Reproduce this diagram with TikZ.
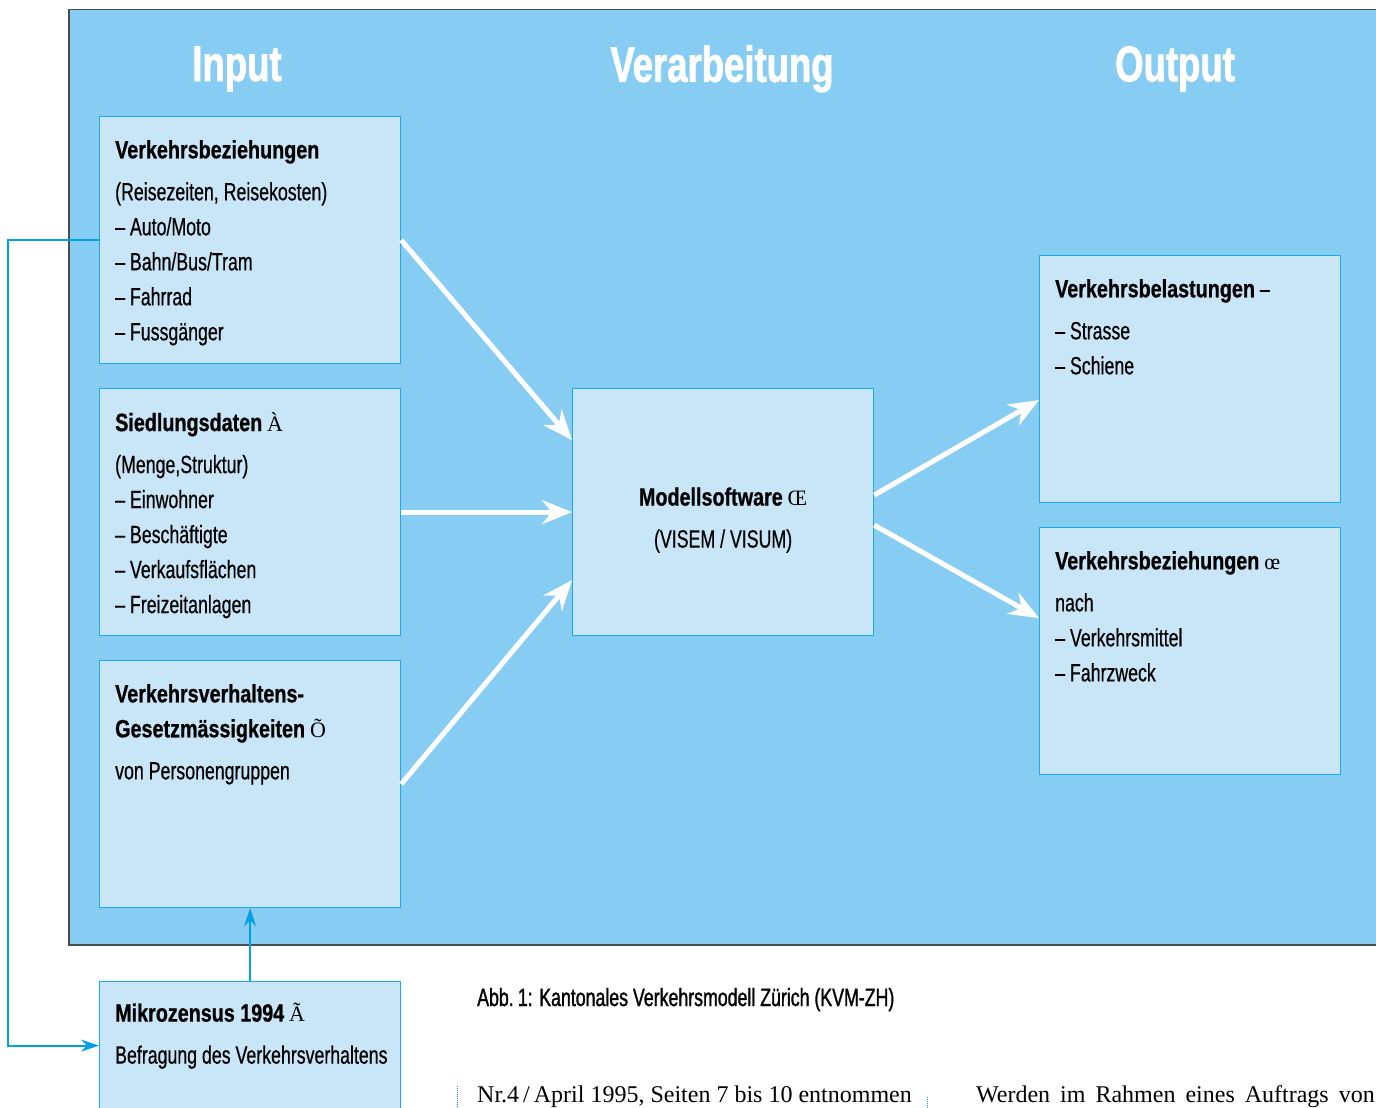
\documentclass[tikz,border=0pt]{standalone}
\usepackage{fontspec}
\setmainfont{Liberation Sans}[FakeStretch=0.71,FakeBold=0.5]
\newfontfamily\boldcond{Liberation Sans Bold}[FakeStretch=0.79,FakeBold=0.8]
\newfontfamily\headcond{Liberation Sans Bold}[FakeStretch=0.73,FakeBold=1.5]
\newfontfamily\capcond{Liberation Sans}[FakeStretch=0.71,FakeBold=1.2]
\newfontfamily\serffont{Liberation Serif}
\usetikzlibrary{arrows.meta,positioning}
\definecolor{panelblue}{RGB}{135,204,242}
\definecolor{boxblue}{RGB}{201,230,248}
\definecolor{edgeblue}{RGB}{30,170,230}
\definecolor{linkblue}{RGB}{0,160,227}
\newcommand{\mk}[1]{{\serffont\fontsize{22}{35}\selectfont #1}}
\newcommand{\hd}[1]{{\boldcond #1}}
\begin{document}
\begin{tikzpicture}[x=1pt,y=-1pt,
  panel/.style={draw=black!70,line width=1.5pt,fill=panelblue,anchor=north west,inner sep=0},
  box/.style={draw=edgeblue,line width=1.2pt,fill=boxblue,anchor=north west,inner sep=0,
    minimum width=301pt,minimum height=247pt},
  head/.style={text=white,font=\headcond\fontsize{50}{50}\selectfont},
  txt/.style={anchor=north west,inner sep=0,align=left,font=\fontsize{25}{35}\selectfont},
  warrow/.style={white,line width=5pt,-{Stealth[length=30pt,width=24pt]}},
  link/.style={linkblue,line width=2pt,-{Stealth[length=18pt,width=12pt]}}]
\clip (0,0) rectangle (1376,1108);
\fill[white] (0,0) rectangle (1376,1108);
\node[panel,minimum width=1320pt,minimum height=935pt] (panel) at (68,9) {};
\node[head] (hin) at (237,69) {Input};
\node[head] (hver) at (722,69) {Verarbeitung};
\node[head] (hout) at (1175,69) {Output};
% boxes
\node[box] (verk) at (99,116) {};
\node[box] (sied) at (99,388) {};
\node[box] (gesetz) at (99,660) {};
\node[box] (modell) at (572,388) {};
\node[box] (belast) at (1039,255) {};
\node[box] (bezieh) at (1039,527) {};
\node[box,minimum height=128pt] (mikro) at (99,981) {};
% box texts
\node[txt] (verktxt) at ([shift={(16,24)}]verk.north west) {\hd{Verkehrsbeziehungen}\\[7pt]
  (Reisezeiten, Reisekosten)\\ – Auto/Moto\\ – Bahn/Bus/Tram\\ – Fahrrad\\ – Fussgänger};
\node[txt] (siedtxt) at ([shift={(16,24)}]sied.north west) {\hd{Siedlungsdaten} \mk{À}\\[7pt]
  (Menge,Struktur)\\ – Einwohner\\ – Beschäftigte\\ – Verkaufsflächen\\ – Freizeitanlagen};
\node[txt] (gesetztxt) at ([shift={(16,24)}]gesetz.north west) {\hd{Verkehrsverhaltens-}\\
  \hd{Gesetzmässigkeiten} \mk{Õ}\\[7pt] von Personengruppen};
\node[txt,anchor=center,align=center] (modelltxt) at ([yshift=-8]modell.center) {\hd{Modellsoftware} \mk{Œ}\\[7pt]
  (VISEM / VISUM)};
\node[txt] (belasttxt) at ([shift={(16,24)}]belast.north west) {\hd{Verkehrsbelastungen} –\\[7pt]
  – Strasse\\ – Schiene};
\node[txt] (beziehtxt) at ([shift={(16,24)}]bezieh.north west) {\hd{Verkehrsbeziehungen} \mk{œ}\\[7pt]
  nach\\ – Verkehrsmittel\\ – Fahrzweck};
\node[txt] (mikrotxt) at ([shift={(16,22)}]mikro.north west) {\hd{Mikrozensus 1994} \mk{Ã}\\[7pt]
  Befragung des Verkehrsverhaltens};
% arrows
\draw[warrow] (verk.east) -- ([yshift=72]modell.west);
\draw[warrow] (sied.east) -- (modell.west);
\draw[warrow] (gesetz.east) -- ([yshift=-68]modell.west);
\draw[warrow] ([yshift=17]modell.east) -- ([yshift=-21]belast.west);
\draw[warrow] ([yshift=-13]modell.east) -- ([yshift=33]bezieh.west);
\coordinate (lp) at (8,241);
\draw[link] (verk.west) -- (verk.west -| lp) |- (mikro.west);
\draw[link] (mikro.north) -- (gesetz.south);
% caption and page text
\node[anchor=base west,inner sep=0,font=\capcond\fontsize{25}{25}\selectfont] (caption) at (477,1006)
  {Abb.\,1: Kantonales Verkehrsmodell Zürich (KVM-ZH)};
\node[anchor=base west,inner sep=0,font=\serffont\fontsize{24}{24}\selectfont] (foot1) at (477,1102)
  {Nr.4\,/\,April 1995, Seiten 7 bis 10 entnommen};
\node[anchor=base east,inner sep=0,font=\serffont\fontsize{24}{24}\selectfont] (foot2) at (1375,1102)
  {Werden\hspace{10pt}im\hspace{10pt}Rahmen\hspace{10pt}eines\hspace{10pt}Auftrags\hspace{10pt}von};
\draw[linkblue,densely dotted,line width=1pt] (457,1086) -- (457,1108);
\draw[linkblue,densely dotted,line width=1pt] (927,1097) -- (927,1108);
\end{tikzpicture}
\end{document}
